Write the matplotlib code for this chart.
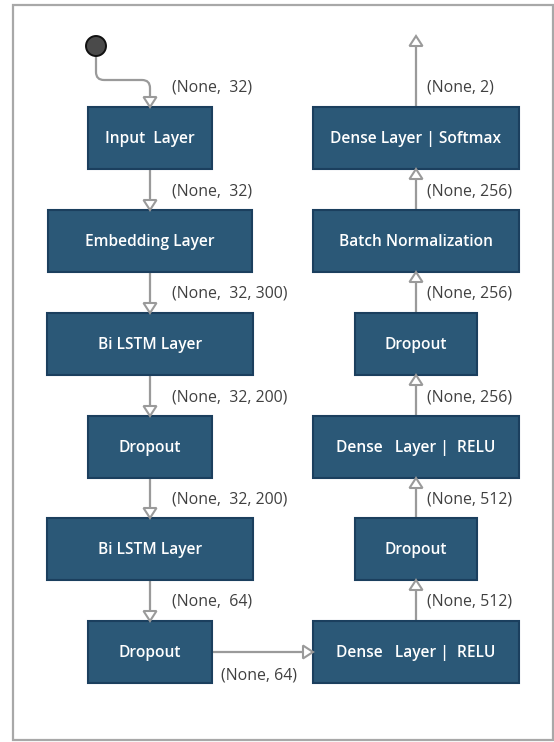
import matplotlib
matplotlib.use("Agg")
import matplotlib.pyplot as plt
from matplotlib.patches import Rectangle, Polygon, Circle, PathPatch
from matplotlib.path import Path

# ---- content ----
left_layers = ["Input  Layer", "Embedding Layer", "Bi LSTM Layer", "Dropout",
               "Bi LSTM Layer", "Dropout"]
left_shapes = ["(None,  32)", "(None,  32)", "(None,  32, 300)", "(None,  32, 200)",
               "(None,  32, 200)", "(None,  64)"]
right_layers = ["Dense Layer | Softmax", "Batch Normalization", "Dropout",
                "Dense   Layer |  RELU", "Dropout", "Dense   Layer |  RELU"]
right_shapes = ["(None, 2)", "(None, 256)", "(None, 256)", "(None, 256)",
                "(None, 512)", "(None, 512)"]
bridge_shape = "(None, 64)"

# ---- layout (pixel space) ----
W, H = 554, 742
row_top = [107, 210, 313, 416, 518, 621]
box_h = 62
left_cx, right_cx = 150, 416
left_w = [124, 204, 206, 124, 206, 124]
right_w = [206, 206, 122, 206, 122, 206]

box_fc = "#2b5877"
box_ec = "#1b3f5e"
line_c = "#9a9a9a"
text_c = "#404040"
font = "Open Sans"
box_fs = 11.2
lab_fs = 11.4

fig = plt.figure(figsize=(W / 100, H / 100), dpi=100)
ax = fig.add_axes([0, 0, 1, 1])
ax.set_xlim(0, W)
ax.set_ylim(H, 0)
ax.axis("off")

# outer frame
ax.add_patch(Rectangle((13, 5), 540, 735, fill=False, ec="#a8a8a8", lw=1.6))


def box(cx, top, w, label):
    ax.add_patch(Rectangle((cx - w / 2, top), w, box_h, fc=box_fc, ec=box_ec, lw=1.5, zorder=3))
    ax.text(cx, top + box_h / 2 + 1, label, color="white", fontsize=box_fs, fontweight="semibold",
            family=font, ha="center", va="center", zorder=4)


def head(x, y, direction):
    # hollow triangle, tip at (x, y)
    hw, hl = 6.5, 10
    if direction == "down":
        pts = [(x, y), (x - hw, y - hl), (x + hw, y - hl)]
    elif direction == "up":
        pts = [(x, y), (x - hw, y + hl), (x + hw, y + hl)]
    else:  # right
        pts = [(x, y), (x - hl, y - hw), (x - hl, y + hw)]
    ax.add_patch(Polygon(pts, closed=True, fc="white", ec=line_c, lw=1.5, zorder=5))


def vline(x, y0, y1):
    ax.plot([x, x], [y0, y1], color=line_c, lw=1.6, zorder=2, solid_capstyle="butt")


def label(x, y, s):
    ax.text(x, y, s, color=text_c, fontsize=lab_fs, family=font, ha="left", va="center", zorder=6)


# left column boxes
for i, (name, w) in enumerate(zip(left_layers, left_w)):
    box(left_cx, row_top[i], w, name)
# right column boxes
for i, (name, w) in enumerate(zip(right_layers, right_w)):
    box(right_cx, row_top[i], w, name)

# start node and connector
ax.add_patch(Circle((96, 46), 10, fc="#4a4a4a", ec="#111111", lw=1.4, zorder=5))
verts = [(96, 56), (96, 72), (96, 80), (104, 80), (142, 80), (150, 80), (150, 88), (150, 98)]
codes = [Path.MOVETO, Path.LINETO, Path.CURVE3, Path.CURVE3, Path.LINETO, Path.CURVE3,
         Path.CURVE3, Path.LINETO]
ax.add_patch(PathPatch(Path(verts, codes), fc="none", ec=line_c, lw=1.6, zorder=2))
head(left_cx, row_top[0], "down")
label(172, 88, left_shapes[0])

# left column down arrows
for i in range(1, len(row_top)):
    y0 = row_top[i - 1] + box_h
    y1 = row_top[i]
    vline(left_cx, y0, y1 - 9)
    head(left_cx, y1, "down")
    label(172, y1 - 19, left_shapes[i])

# bridge arrow
by = row_top[-1] + box_h / 2
bx0 = left_cx + left_w[-1] / 2
bx1 = right_cx - right_w[-1] / 2
ax.plot([bx0, bx1 - 9], [by, by], color=line_c, lw=1.6, zorder=2)
head(bx1, by, "right")
ax.text(221, 675, bridge_shape, color=text_c, fontsize=lab_fs, family=font, ha="left", va="center")

# right column up arrows
for i in range(len(row_top) - 1, 0, -1):
    y0 = row_top[i]
    y1 = row_top[i - 1] + box_h
    vline(right_cx, y0, y1 + 9)
    head(right_cx, y1, "up")
    label(427, row_top[i] - 19, right_shapes[i])

# output arrow
vline(right_cx, row_top[0], 45)
head(right_cx, 36, "up")
label(427, 88, right_shapes[0])

fig.savefig("out.png", dpi=100, facecolor="white")
